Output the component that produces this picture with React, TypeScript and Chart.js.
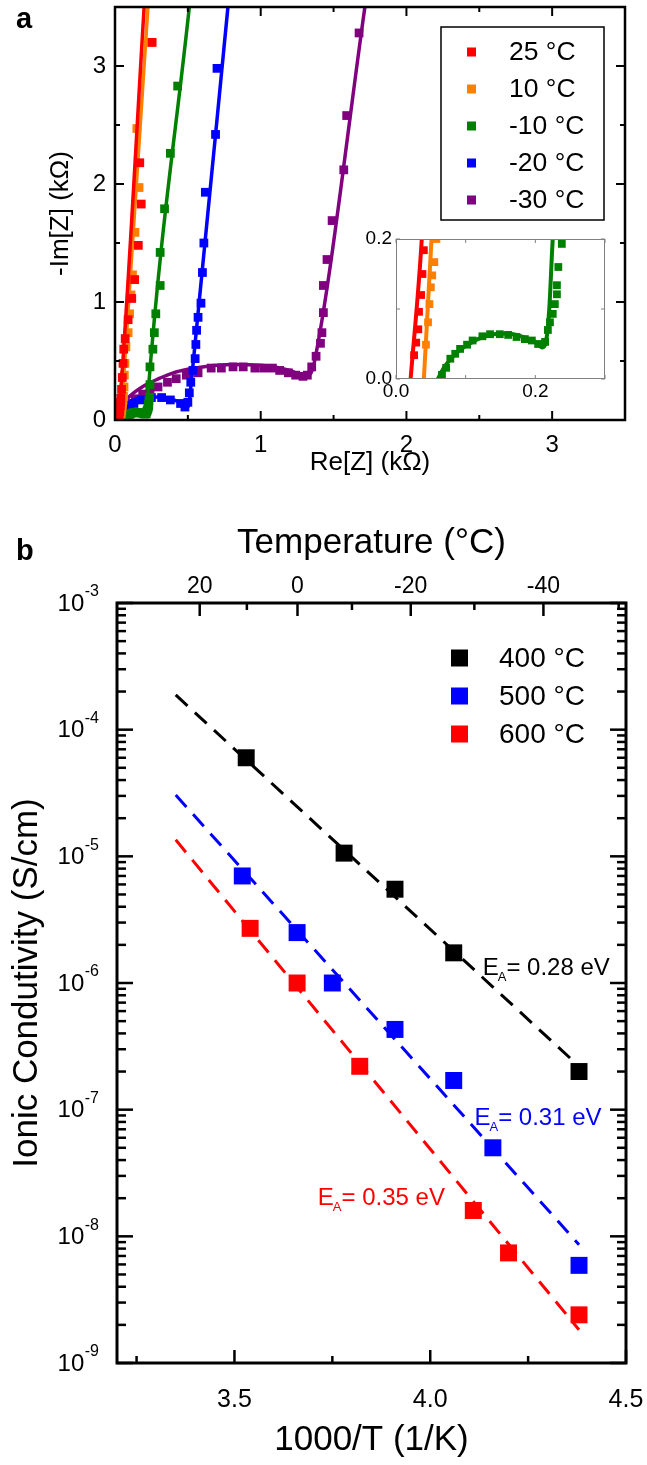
import React, { useEffect, useRef } from 'react';
import { Chart, registerables } from 'chart.js';

Chart.register(...registerables);

const FONT = "'Liberation Sans', Arial, Helvetica, sans-serif";

// ---------------- Panel a : Nyquist plots (kΩ) ----------------
const seriesLabelsA = ['25 °C', '10 °C', '-10 °C', '-20 °C', '-30 °C'];
const seriesColorsA = ['#ff0000', '#ff8000', '#008000', '#0000ff', '#800080'];

const re25 = [0.026, 0.029, 0.032, 0.033, 0.036, 0.038, 0.040, 0.045, 0.050, 0.055, 0.060, 0.070, 0.090, 0.115, 0.135, 0.160, 0.180, 0.170, 0.255];
const im25 = [0.034, 0.052, 0.071, 0.096, 0.120, 0.150, 0.184, 0.26, 0.36, 0.48, 0.60, 0.69, 0.85, 1.03, 1.19, 1.48, 1.83, 2.18, 3.20];
const fitRe25 = [0.021, 0.037, 0.200];
const fitIm25 = [0, 0.2, 3.5];

const re10 = [0.043, 0.046, 0.048, 0.050, 0.052, 0.055, 0.058, 0.062, 0.064, 0.068, 0.075, 0.090, 0.100, 0.110, 0.120, 0.137, 0.165, 0.150, 0.245];
const im10 = [0.049, 0.081, 0.107, 0.131, 0.148, 0.167, 0.200, 0.28, 0.38, 0.48, 0.62, 0.74, 0.90, 1.06, 1.23, 1.59, 1.97, 2.47, 3.20];
const fitRe10 = [0.040, 0.051, 0.226];
const fitIm10 = [0, 0.2, 3.5];

const reM10 = [0.066, 0.072, 0.078, 0.085, 0.092, 0.102, 0.110, 0.124, 0.135, 0.149, 0.161, 0.173, 0.185, 0.195, 0.204, 0.214, 0.218, 0.221, 0.225, 0.228, 0.231, 0.231, 0.233, 0.238, 0.24, 0.24, 0.26, 0.27, 0.28, 0.31, 0.31, 0.34, 0.38, 0.43];
const imM10 = [0.006, 0.016, 0.029, 0.036, 0.043, 0.049, 0.055, 0.061, 0.064, 0.064, 0.063, 0.060, 0.057, 0.055, 0.050, 0.053, 0.070, 0.081, 0.093, 0.107, 0.121, 0.134, 0.160, 0.193, 0.30, 0.45, 0.60, 0.74, 0.90, 1.14, 1.42, 1.79, 2.26, 2.83];
const fitReM10 = [0.060, 0.070, 0.080, 0.090, 0.100, 0.120, 0.140, 0.160, 0.180, 0.200, 0.210, 0.215, 0.220, 0.225, 0.510];
const fitImM10 = [0, 0.018, 0.030, 0.040, 0.047, 0.058, 0.064, 0.065, 0.061, 0.053, 0.045, 0.052, 0.10, 0.20, 3.5];

const reM20 = [0.03, 0.055, 0.09, 0.13, 0.18, 0.25, 0.32, 0.38, 0.45, 0.48, 0.50, 0.51, 0.52, 0.535, 0.55, 0.555, 0.56, 0.57, 0.59, 0.60, 0.61, 0.62, 0.69, 0.70];
const imM20 = [0.02, 0.04, 0.10, 0.14, 0.17, 0.19, 0.19, 0.17, 0.14, 0.11, 0.15, 0.23, 0.32, 0.42, 0.52, 0.64, 0.76, 0.87, 0.99, 1.25, 1.50, 1.93, 2.42, 2.98];
const fitReM20 = [0.02, 0.04, 0.07, 0.10, 0.15, 0.20, 0.30, 0.38, 0.44, 0.48, 0.50, 0.51, 0.52, 0.53, 0.775];
const fitImM20 = [0, 0.07, 0.12, 0.15, 0.18, 0.19, 0.195, 0.18, 0.15, 0.12, 0.11, 0.15, 0.28, 0.40, 3.5];

const reM30 = [0.02, 0.04, 0.07, 0.10, 0.14, 0.19, 0.24, 0.295, 0.36, 0.42, 0.49, 0.57, 0.66, 0.73, 0.81, 0.88, 0.96, 1.02, 1.08, 1.13, 1.19, 1.24, 1.29, 1.32, 1.35, 1.38, 1.41, 1.42, 1.43, 1.43, 1.455, 1.49, 1.57, 1.59, 1.675];
const imM30 = [0.02, 0.06, 0.10, 0.14, 0.18, 0.22, 0.25, 0.28, 0.32, 0.35, 0.38, 0.40, 0.44, 0.44, 0.45, 0.45, 0.44, 0.44, 0.44, 0.42, 0.40, 0.38, 0.37, 0.38, 0.45, 0.54, 0.65, 0.74, 0.91, 1.14, 1.36, 1.69, 2.12, 2.58, 3.28];
const fitReM30 = [0, 0.02, 0.05, 0.10, 0.20, 0.30, 0.40, 0.50, 0.60, 0.80, 1.00, 1.10, 1.20, 1.30, 1.34, 1.37, 1.715];
const fitImM30 = [0, 0.07, 0.13, 0.20, 0.29, 0.35, 0.40, 0.43, 0.45, 0.47, 0.465, 0.45, 0.42, 0.38, 0.39, 0.50, 3.5];

// ---------------- Panel b : Arrhenius plot ----------------
const seriesLabelsB = ['400 °C', '500 °C', '600 °C'];
const seriesColorsB = ['#000000', '#0000ff', '#ff0000'];

const invT400 = [3.53, 3.78, 3.91, 4.06, 4.38];
const sigma400 = [6.0e-5, 1.06e-5, 5.5e-6, 1.73e-6, 2.0e-7];
const invT500 = [3.52, 3.66, 3.75, 3.91, 4.06, 4.16, 4.38];
const sigma500 = [7.0e-6, 2.5e-6, 1.0e-6, 4.3e-7, 1.7e-7, 5.0e-8, 5.9e-9];
const invT600 = [3.54, 3.66, 3.82, 4.11, 4.20, 4.38];
const sigma600 = [2.7e-6, 1.0e-6, 2.2e-7, 1.6e-8, 7.4e-9, 2.4e-9];

const fitInvT = [3.35, 4.38];
const fit400 = [1.88e-4, 2.2e-7];
const fit500 = [3.05e-5, 8.6e-9];
const fit600 = [1.35e-5, 1.83e-9];
const eaValues = ['0.28 eV', '0.31 eV', '0.35 eV'];

const xTicksB = [3.25, 3.5, 3.75, 4.0, 4.25, 4.5];
const xMajorB = [3.5, 4.0, 4.5];
const tempTicksC = [20, 10, 0, -10, -20, -30, -40, -50];
const tempLabelsC = [20, 0, -20, -40];
const yDecades = [-9, -8, -7, -6, -5, -4, -3];

const pts = (xs: number[], ys: number[]) => xs.map((x, i) => ({ x, y: ys[i] }));

const markerDs = (data: any[], color: string, r: number) => ({
  data,
  showLine: false,
  pointStyle: 'rect',
  pointRadius: r,
  pointHoverRadius: r,
  pointBackgroundColor: color,
  pointBorderWidth: 0,
  backgroundColor: color,
  borderColor: color,
});

const lineDs = (data: any[], color: string, w: number, extra: any = {}) => ({
  data,
  showLine: true,
  pointRadius: 0,
  pointHoverRadius: 0,
  borderColor: color,
  backgroundColor: color,
  borderWidth: w,
  fill: false,
  ...extra,
});

function seg(ctx: CanvasRenderingContext2D, x1: number, y1: number, x2: number, y2: number) {
  ctx.beginPath();
  ctx.moveTo(x1, y1);
  ctx.lineTo(x2, y2);
  ctx.stroke();
}

const noGrid = { display: false, drawTicks: false };
const noBorder = { display: false };
const zeroPad = (s: any) => {
  s.paddingLeft = 0;
  s.paddingRight = 0;
  s.paddingTop = 0;
  s.paddingBottom = 0;
};

export default function App() {
  const aRef = useRef<HTMLCanvasElement>(null);
  const insetRef = useRef<HTMLCanvasElement>(null);
  const bRef = useRef<HTMLCanvasElement>(null);

  useEffect(() => {
    Chart.defaults.font.family = FONT;
    Chart.defaults.color = '#000';
    const charts: Chart[] = [];

    // ---------- Panel a main ----------
    const seriesA = [
      { m: pts(re25, im25), f: pts(fitRe25, fitIm25) },
      { m: pts(re10, im10), f: pts(fitRe10, fitIm10) },
      { m: pts(reM10, imM10), f: pts(fitReM10, fitImM10) },
      { m: pts(reM20, imM20), f: pts(fitReM20, fitImM20) },
      { m: pts(reM30, imM30), f: pts(fitReM30, fitImM30) },
    ];
    const dsA: any[] = [];
    seriesA.forEach((s, i) => {
      dsA.push(lineDs(s.f, seriesColorsA[i], 3.5, { cubicInterpolationMode: 'monotone' }));
      dsA.push(markerDs(s.m, seriesColorsA[i], 6.2));
    });

    const plugA = {
      id: 'panelA',
      afterDraw(chart: any) {
        const { ctx, chartArea: a, scales } = chart;
        const x = scales.x, y = scales.y;
        ctx.save();
        ctx.strokeStyle = '#000';
        ctx.lineWidth = 2;
        x.ticks.forEach((t: any) => {
          const px = x.getPixelForValue(t.value);
          const len = Number.isInteger(t.value) ? 9 : 5;
          seg(ctx, px, a.bottom, px, a.bottom - len);
          seg(ctx, px, a.top, px, a.top + len);
        });
        y.ticks.forEach((t: any) => {
          const py = y.getPixelForValue(t.value);
          const len = Number.isInteger(t.value) ? 9 : 5;
          seg(ctx, a.left, py, a.left + len, py);
          seg(ctx, a.right, py, a.right - len, py);
        });
        ctx.lineWidth = 2.5;
        ctx.strokeRect(a.left, a.top, a.right - a.left, a.bottom - a.top);
        // legend
        ctx.lineWidth = 1.5;
        ctx.strokeRect(441, 27, 163, 193);
        ctx.font = `26.5px ${FONT}`;
        ctx.textAlign = 'left';
        ctx.textBaseline = 'middle';
        seriesLabelsA.forEach((lab, i) => {
          const cy = 52 + i * 37;
          ctx.fillStyle = seriesColorsA[i];
          ctx.fillRect(467, cy - 4.5, 9, 9);
          ctx.fillStyle = '#000';
          ctx.fillText(lab, 509, cy + 1);
        });
        // panel label
        ctx.font = `bold 29px ${FONT}`;
        ctx.textBaseline = 'alphabetic';
        ctx.fillText('a', 16, 28);
        ctx.restore();
      },
    };

    charts.push(
      new Chart(aRef.current as HTMLCanvasElement, {
        type: 'scatter',
        data: { datasets: dsA },
        options: {
          responsive: false,
          animation: false,
          events: [],
          layout: { padding: { left: 0, right: 22, top: 7, bottom: 0 } },
          plugins: { legend: { display: false }, tooltip: { enabled: false } },
          scales: {
            x: {
              type: 'linear',
              min: 0,
              max: 3.5,
              grid: noGrid,
              border: noBorder,
              ticks: {
                stepSize: 0.5,
                autoSkip: false,
                maxRotation: 0,
                padding: 11,
                color: '#000',
                font: { family: FONT, size: 24 },
                callback: (v: any) => (Number.isInteger(v) ? String(v) : ''),
              },
              title: { display: true, text: 'Re[Z] (kΩ)', color: '#000', font: { family: FONT, size: 26 }, padding: { top: 0, bottom: 2 } },
              afterFit: (s: any) => { s.height = 60; zeroPad(s); },
            },
            y: {
              type: 'linear',
              min: 0,
              max: 3.5,
              grid: noGrid,
              border: noBorder,
              ticks: {
                stepSize: 0.5,
                autoSkip: false,
                padding: 9,
                color: '#000',
                font: { family: FONT, size: 24 },
                callback: (v: any) => (Number.isInteger(v) ? String(v) : ''),
              },
              title: { display: true, text: '-Im[Z] (kΩ)', color: '#000', font: { family: FONT, size: 26 }, padding: { top: 45, bottom: 0 } },
              afterFit: (s: any) => { s.width = 115; zeroPad(s); },
            },
          },
        } as any,
        plugins: [plugA as any],
      })
    );

    // ---------- Panel a inset ----------
    const dsIn: any[] = [];
    seriesA.slice(0, 3).forEach((s, i) => {
      dsIn.push(lineDs(s.f, seriesColorsA[i], 4, { cubicInterpolationMode: 'monotone', clip: 0 }));
      dsIn.push({ ...markerDs(s.m, seriesColorsA[i], 5.5), clip: 0 });
    });
    const is0or02 = (v: number) => Math.abs(v) < 1e-9 || Math.abs(v - 0.2) < 1e-9;
    const plugIn = {
      id: 'inset',
      afterDraw(chart: any) {
        const { ctx, chartArea: a, scales } = chart;
        const x = scales.x, y = scales.y;
        ctx.save();
        ctx.strokeStyle = '#808080';
        ctx.lineWidth = 1;
        x.ticks.forEach((t: any) => {
          const px = x.getPixelForValue(t.value);
          seg(ctx, px, a.bottom, px, a.bottom - 4);
          seg(ctx, px, a.top, px, a.top + 4);
        });
        y.ticks.forEach((t: any) => {
          const py = y.getPixelForValue(t.value);
          seg(ctx, a.left, py, a.left + 4, py);
          seg(ctx, a.right, py, a.right - 4, py);
        });
        ctx.strokeRect(a.left + 0.5, a.top + 0.5, a.right - a.left - 1, a.bottom - a.top - 1);
        ctx.restore();
      },
    };
    charts.push(
      new Chart(insetRef.current as HTMLCanvasElement, {
        type: 'scatter',
        data: { datasets: dsIn },
        options: {
          responsive: false,
          animation: false,
          events: [],
          layout: { padding: { left: 0, right: 15, top: 13, bottom: 0 } },
          plugins: { legend: { display: false }, tooltip: { enabled: false } },
          scales: {
            x: {
              type: 'linear',
              min: 0,
              max: 0.3,
              grid: noGrid,
              border: noBorder,
              ticks: {
                stepSize: 0.1,
                autoSkip: false,
                maxRotation: 0,
                padding: 1,
                color: '#000',
                font: { family: FONT, size: 19 },
                callback: (v: any) => (is0or02(v) ? Number(v).toFixed(1) : ''),
              },
              afterFit: (s: any) => { s.height = 23; zeroPad(s); },
            },
            y: {
              type: 'linear',
              min: 0,
              max: 0.2,
              grid: noGrid,
              border: noBorder,
              ticks: {
                stepSize: 0.1,
                autoSkip: false,
                padding: 4,
                color: '#000',
                font: { family: FONT, size: 19 },
                callback: (v: any) => (is0or02(v) ? Number(v).toFixed(1) : ''),
              },
              afterFit: (s: any) => { s.width = 60; zeroPad(s); },
            },
          },
        } as any,
        plugins: [plugIn as any],
      })
    );

    // ---------- Panel b ----------
    const dsB: any[] = [
      markerDs(pts(invT400, sigma400), seriesColorsB[0], 12),
      markerDs(pts(invT500, sigma500), seriesColorsB[1], 12),
      markerDs(pts(invT600, sigma600), seriesColorsB[2], 12),
      lineDs(pts(fitInvT, fit400), seriesColorsB[0], 3, { borderDash: [16, 10] }),
      lineDs(pts(fitInvT, fit500), seriesColorsB[1], 3, { borderDash: [16, 10] }),
      lineDs(pts(fitInvT, fit600), seriesColorsB[2], 3, { borderDash: [16, 10] }),
    ];
    const isDecade = (v: number) => Math.abs(Math.log10(v) - Math.round(Math.log10(v))) < 1e-6;
    const eaAnchors = [
      { x: 4.134, y: 1.16e-6 },
      { x: 4.113, y: 7.6e-8 },
      { x: 3.713, y: 1.77e-8 },
    ];
    const plugB = {
      id: 'panelB',
      afterDraw(chart: any) {
        const { ctx, chartArea: a, scales } = chart;
        const x = scales.x, x2 = scales.x2, y = scales.y;
        ctx.save();
        ctx.strokeStyle = '#000';
        ctx.lineWidth = 2.5;
        x.ticks.forEach((t: any) => {
          const px = x.getPixelForValue(t.value);
          const len = xMajorB.some((m) => Math.abs(m - t.value) < 1e-9) ? 13 : 7;
          seg(ctx, px, a.bottom, px, a.bottom - len);
        });
        x2.ticks.forEach((t: any, i: number) => {
          const px = x2.getPixelForValue(t.value);
          const len = tempLabelsC.includes(tempTicksC[i]) ? 13 : 7;
          seg(ctx, px, a.top, px, a.top + len);
        });
        y.ticks.forEach((t: any) => {
          const py = y.getPixelForValue(t.value);
          const len = isDecade(t.value) ? 16 : 9;
          seg(ctx, a.left, py, a.left + len, py);
          seg(ctx, a.right, py, a.right - len, py);
        });
        ctx.lineWidth = 3;
        ctx.strokeRect(a.left, a.top, a.right - a.left, a.bottom - a.top);

        // y tick labels 10^n
        ctx.fillStyle = '#000';
        ctx.textAlign = 'right';
        ctx.textBaseline = 'middle';
        yDecades.forEach((e) => {
          const py = y.getPixelForValue(Math.pow(10, e));
          ctx.font = `16px ${FONT}`;
          const es = String(e);
          const ew = ctx.measureText(es).width;
          ctx.fillText(es, 99, py - 11);
          ctx.font = `24px ${FONT}`;
          ctx.fillText('10', 99 - ew - 0.5, py + 1);
        });

        // legend
        ctx.textAlign = 'left';
        ctx.font = `28px ${FONT}`;
        seriesLabelsB.forEach((lab, i) => {
          const cy = 178 + i * 38;
          ctx.fillStyle = seriesColorsB[i];
          ctx.fillRect(451, cy - 8.5, 17, 17);
          ctx.fillStyle = '#000';
          ctx.fillText(lab, 499, cy + 1);
        });

        // activation energy annotations
        ctx.textBaseline = 'alphabetic';
        eaAnchors.forEach((p, i) => {
          const px = x.getPixelForValue(p.x);
          const py = y.getPixelForValue(p.y);
          ctx.fillStyle = seriesColorsB[i];
          ctx.font = `24px ${FONT}`;
          ctx.fillText('E', px, py);
          const wE = ctx.measureText('E').width;
          ctx.font = `13px ${FONT}`;
          ctx.fillText('A', px + wE - 1, py + 6);
          const wA = ctx.measureText('A').width;
          ctx.font = `24px ${FONT}`;
          ctx.fillText('= ' + eaValues[i], px + wE + wA - 1, py);
        });

        // panel label
        ctx.fillStyle = '#000';
        ctx.font = `bold 29px ${FONT}`;
        ctx.fillText('b', 16, 80);
        ctx.restore();
      },
    };

    charts.push(
      new Chart(bRef.current as HTMLCanvasElement, {
        type: 'scatter',
        data: { datasets: dsB },
        options: {
          responsive: false,
          animation: false,
          events: [],
          layout: { padding: { left: 0, right: 21, top: 0, bottom: 0 } },
          plugins: { legend: { display: false }, tooltip: { enabled: false } },
          scales: {
            x: {
              type: 'linear',
              position: 'bottom',
              min: 3.2,
              max: 4.5,
              grid: noGrid,
              border: noBorder,
              afterBuildTicks: (s: any) => { s.ticks = xTicksB.map((v) => ({ value: v })); },
              ticks: {
                autoSkip: false,
                maxRotation: 0,
                padding: 22,
                color: '#000',
                font: { family: FONT, size: 25 },
                callback: (v: any) => (xMajorB.some((m) => Math.abs(m - v) < 1e-9) ? Number(v).toFixed(1) : ''),
              },
              title: { display: true, text: '1000/T (1/K)', color: '#000', font: { family: FONT, size: 35 }, padding: { top: 0, bottom: 4 } },
              afterFit: (s: any) => { s.height = 102; zeroPad(s); },
            },
            x2: {
              type: 'linear',
              axis: 'x',
              position: 'top',
              min: 3.2,
              max: 4.5,
              grid: noGrid,
              border: noBorder,
              afterBuildTicks: (s: any) => { s.ticks = tempTicksC.map((T) => ({ value: 1000 / (T + 273.15) })); },
              ticks: {
                autoSkip: false,
                maxRotation: 0,
                padding: 3,
                color: '#000',
                font: { family: FONT, size: 23 },
                callback: (_v: any, i: number) => (tempLabelsC.includes(tempTicksC[i]) ? String(tempTicksC[i]) : ''),
              },
              title: { display: true, text: 'Temperature (°C)', color: '#000', font: { family: FONT, size: 35 }, padding: { top: 42, bottom: 0 } },
              afterFit: (s: any) => { s.height = 123; zeroPad(s); },
            },
            y: {
              type: 'logarithmic',
              min: 1e-9,
              max: 1e-3,
              grid: noGrid,
              border: noBorder,
              afterBuildTicks: (s: any) => {
                const t: any[] = [];
                yDecades.forEach((e) => {
                  for (let m = 1; m <= 9; m++) {
                    if (e === -3 && m > 1) break;
                    t.push({ value: m * Math.pow(10, e) });
                  }
                });
                s.ticks = t;
              },
              ticks: { autoSkip: false, callback: () => '' },
              title: { display: true, text: 'Ionic Condutivity (S/cm)', color: '#000', font: { family: FONT, size: 35 }, padding: { top: 6, bottom: 0 } },
              afterFit: (s: any) => { s.width = 117; zeroPad(s); },
            },
          },
        } as any,
        plugins: [plugB as any],
      })
    );

    return () => charts.forEach((c) => c.destroy());
  }, []);

  return (
    <div style={{ position: 'absolute', left: 0, top: 0, width: 647, height: 1465, background: '#fff' }}>
      <canvas ref={aRef} width={647} height={480} style={{ position: 'absolute', left: 0, top: 0 }} />
      <canvas ref={insetRef} width={284} height={176} style={{ position: 'absolute', left: 336, top: 226 }} />
      <canvas ref={bRef} width={647} height={985} style={{ position: 'absolute', left: 0, top: 480 }} />
    </div>
  );
}
